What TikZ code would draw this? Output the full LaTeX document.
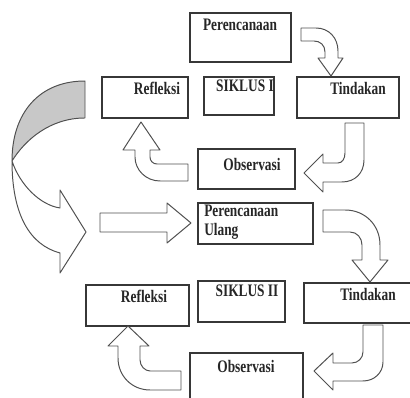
\documentclass[tikz,border=0pt]{standalone}
\usepackage{fontspec}
\setmainfont{Liberation Serif}[FakeStretch=0.76]
\usepackage{tikz}
\usetikzlibrary{fit}
\definecolor{garis}{RGB}{55,55,55}
\definecolor{garispanah}{RGB}{80,80,80}
\definecolor{abu}{RGB}{200,200,200}
\tikzset{
  kotak/.style={draw=garis, line width=0.9pt, inner sep=0pt},
  teks/.style={font=\fontsize{12.5}{13.5}\selectfont\bfseries, inner sep=0pt, text=black!85},
  panah/.style={draw=garispanah, line width=0.7pt, fill=white, line join=round},
  panahabu/.style={panah, fill=abu},
}

\begin{document}
\begin{tikzpicture}[x=0.025cm, y=-0.025cm]
  \useasboundingbox (0,0) rectangle (410,398);
  \clip (0,0) rectangle (410,398);

  % siklus I
  \node[kotak, fit={(190,13) (291,62)}] (ren1) {};
  \node[kotak, fit={(102,77) (188,118)}] (ref1) {};
  \node[kotak, fit={(204,77) (274,115)}] (sik1) {};
  \node[kotak, fit={(297,77) (399,118)}] (tin1) {};
  \node[kotak, fit={(198,149) (295,189)}] (obs1) {};
  \node[teks] (tren1) at (240,25) {Perencanaan};
  \node[teks] (tref1) at (157,88) {Refleksi};
  \node[teks] (tsik1) at (245,86) {SIKLUS I};
  \node[teks] (ttin1) at (358,88) {Tindakan};
  \node[teks] (tobs1) at (252,164) {Observasi};

  % siklus II
  \node[kotak, fit={(198,203) (313,244)}] (renU) {};
  \node[kotak, fit={(198,281) (285,322)}] (sik2) {};
  \node[kotak, fit={(86,285) (189,326)}] (ref2) {};
  \node[kotak, fit={(304,283) (413,323)}] (tin2) {};
  \node[kotak, fit={(190,353) (303,402)}] (obs2) {};
  \node[teks, anchor=west, align=left] (trenU) at (204,222) {Perencanaan\\Ulang};
  \node[teks] (tsik2) at (247,291) {SIKLUS II};
  \node[teks] (tref2) at (144,296) {Refleksi};
  \node[teks] (ttin2) at (368,294) {Tindakan};
  \node[teks] (tobs2) at (246,366) {Observasi};

  % panah siklus I
  \draw[panah] (301,28) -- (316,28) .. controls (329,28) and (338,38) .. (338,51) -- (338,58)
    -- (343,58) -- (331,76) -- (318,58) -- (325,58) -- (325,52)
    .. controls (325,45) and (320,41) .. (314,41) -- (301,41) -- cycle;
  \draw[panah] (345,123) -- (364,123) -- (364,160) .. controls (364,173) and (355,182) .. (342,182)
    -- (323,182) -- (323,192) -- (304,173) -- (323,154) -- (323,163) -- (338,163)
    .. controls (342,163) and (345,159) .. (345,153) -- cycle;
  \draw[panah] (188,164) -- (188,181) -- (160,181) .. controls (146,181) and (135,170) .. (135,157)
    -- (135,150) -- (123,150) -- (141,122) -- (160,150) -- (150,150) -- (150,157)
    .. controls (150,161) and (153,164) .. (157,164) -- cycle;

  % panah besar ke siklus II
  \draw[panah] (12,161) .. controls (20,185) and (40,205) .. (60,208) -- (60,190) -- (86,232)
    -- (60,273) -- (60,253) .. controls (30,245) and (12,215) .. (12,161) -- cycle;
  \draw[panahabu] (85,81) .. controls (40,81) and (12,112) .. (12,161)
    .. controls (25,140) and (50,118) .. (85,118) -- cycle;
  \draw[panah] (100,213) -- (167,213) -- (167,203) -- (191,223) -- (167,243) -- (167,232) -- (100,232) -- cycle;

  % panah siklus II
  \draw[panah] (323,210) -- (345,210) .. controls (365,210) and (380,225) .. (380,245) -- (380,260)
    -- (388,260) -- (370,282) -- (352,260) -- (362,260) -- (362,245)
    .. controls (362,238) and (357,232) .. (350,232) -- (323,232) -- cycle;
  \draw[panah] (363,325) -- (383,325) -- (383,362) .. controls (383,373) and (374,381) .. (363,381)
    -- (333,381) -- (333,390) -- (314,371) -- (333,353) -- (333,363) -- (352,363)
    .. controls (358,363) and (363,358) .. (363,352) -- cycle;
  \draw[panah] (181,371) -- (181,390) -- (150,390) .. controls (132,390) and (118,376) .. (118,358)
    -- (118,346) -- (108,346) -- (128,326) -- (149,346) -- (140,346) -- (140,360)
    .. controls (140,366) and (145,371) .. (150,371) -- cycle;
\end{tikzpicture}
\end{document}
